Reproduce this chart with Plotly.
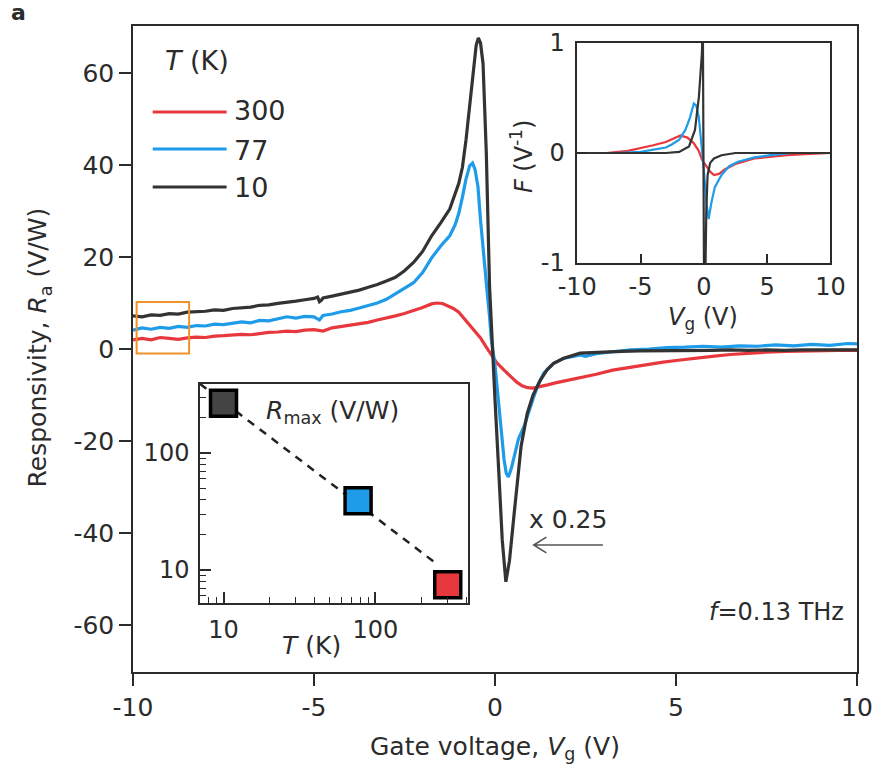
import plotly.graph_objects as go

# ---- Main panel: responsivity R_a (V/W) vs gate voltage V_g (V); 10 K trace shown x0.25 ----
vg_300 = [-10, -9.75, -9.5, -9.25, -9, -8.75, -8.5, -8.25, -8, -7.75, -7.5, -7.25, -7, -6.75,
          -6.5, -6.25, -6, -5.75, -5.5, -5.25, -5,
          -4.75, -4.5, -4.25, -4, -3.75, -3.5, -3.25, -3, -2.75, -2.5, -2.25, -2,
          -1.75, -1.6, -1.45, -1.3, -1.15, -1.0, -0.85, -0.7, -0.55, -0.4, -0.25, -0.1,
          0.05, 0.25, 0.45, 0.6, 0.75, 0.9, 1.05, 1.2, 1.45, 1.7, 2.0, 2.35, 2.8, 3.25,
          3.7, 4.15, 4.6, 5.0, 5.5, 6.0, 6.5, 7.0, 7.5, 8.0, 8.5, 9.0, 9.5, 10]
ra_300 = [2.0, 2.3, 2.0, 2.5, 2.3, 2.1, 2.4, 2.6, 2.5, 2.8, 2.9, 3.0, 3.2, 3.1,
          3.4, 3.6, 3.7, 3.9, 3.8, 4.1, 4.2,
          3.9, 4.6, 4.9, 5.2, 5.4, 5.8, 6.3, 6.7, 7.2, 7.7, 8.3, 9.0,
          9.8, 10.0, 9.9, 9.4, 8.8, 8.0, 6.6, 5.2, 3.8, 2.4, 0.5, -1.3,
          -3.0, -4.6, -6.2, -7.2, -8.0, -8.4, -8.5, -8.3, -7.8, -7.3, -6.8, -6.3, -5.5, -4.6,
          -4.0, -3.4, -2.9, -2.5, -2.0, -1.6, -1.2, -0.9, -0.7, -0.5, -0.4, -0.4, -0.3, -0.3]

vg_77 = [-10, -9.75, -9.5, -9.25, -9, -8.75, -8.5, -8.25, -8, -7.75, -7.5, -7.25, -7, -6.75,
         -6.5, -6.25, -6, -5.75, -5.5, -5.25, -5,
         -4.85, -4.75,
         -4.5, -4.25, -4, -3.75, -3.5, -3.25, -3, -2.75, -2.5, -2.25, -2, -1.75, -1.5, -1.25,
         -1.1, -1.0, -0.9, -0.8, -0.7, -0.62, -0.55, -0.47, -0.4, -0.3, -0.2, -0.15, -0.1,
         0, 0.1, 0.18, 0.25, 0.31, 0.37, 0.45, 0.55, 0.65, 0.8, 0.95, 1.07, 1.2, 1.35, 1.62,
         1.9, 2.1, 2.35, 2.5, 2.8, 3.25, 3.75, 4.25, 4.75, 5.25, 5.75, 6.25, 6.75, 7.25,
         7.75, 8.25, 8.75, 9.25, 9.75, 10]
ra_77 = [4.1, 4.6, 4.3, 4.7, 4.5, 4.9, 4.7, 5.1, 5.0, 5.4, 5.3, 5.6, 5.9, 5.7,
         6.2, 6.1, 6.5, 7.0, 6.7, 7.1, 7.0,
         6.3, 7.3,
         7.6, 8.1, 8.4, 8.9, 9.4, 10.0, 10.8, 12.0, 13.0, 14.4, 16.6, 19.8, 22.4, 24.6,
         27.0, 29.5, 33.0, 37.0, 39.8, 40.4, 39.0, 35.2, 28.0, 18.5, 11.0, 7.0, 2.0,
         -3.5, -12.0, -19.0, -24.0, -27.0, -27.8, -26.0, -22.5, -19.5, -16.9, -13.0, -10.4, -7.5, -5.2, -3.1,
         -2.0, -1.7, -1.3, -1.6, -1.0, -0.6, -0.2, 0.0, 0.3, 0.4, 0.6, 0.4, 0.7, 0.6,
         0.9, 0.7, 1.0, 0.8, 1.2, 1.1]

vg_10 = [-10, -9.75, -9.5, -9.25, -9, -8.75, -8.5, -8.25, -8, -7.75, -7.5, -7.25, -7, -6.75,
         -6.5, -6.25, -6, -5.75, -5.5, -5.25, -5,
         -4.9, -4.85, -4.8, -4.75,
         -4.5, -4.25, -4, -3.75, -3.5, -3.25, -3, -2.75, -2.5, -2.25, -2, -1.75, -1.5, -1.25, -1,
         -0.9, -0.8, -0.7, -0.6, -0.52, -0.46, -0.4, -0.33, -0.24, -0.15, -0.07,
         0, 0.1, 0.2, 0.3, 0.4, 0.53, 0.62, 0.72, 0.89, 1.05, 1.26, 1.45, 1.62, 1.9, 2.35,
         3, 3.5, 4, 4.5, 5, 5.5, 6, 6.5, 7, 7.5, 8, 8.5, 9, 9.5, 10]
ra_10 = [7.2, 7.0, 7.4, 7.3, 7.7, 7.6, 8.0, 8.1, 8.2, 8.5, 8.4, 8.8, 9.0, 9.1,
         9.5, 9.6, 9.9, 10.1, 10.4, 10.7, 11.0,
         11.3, 10.3, 10.6, 11.1,
         11.5, 11.9, 12.4, 12.8, 13.4, 14.0, 14.8, 15.6, 17.0, 18.8, 21.2, 24.6, 27.4, 30.4, 36.0,
         39.5, 45.5, 52.5, 60.5, 66.0, 67.6, 66.5, 62.0, 42.6, 13.5, -1.0,
         -11.0, -26.0, -41.5, -50.6, -46.0, -35.7, -28.0, -21.2, -14.0, -10.0, -6.7, -4.4, -3.1, -2.0, -0.9,
         -0.6, -0.5, -0.4, -0.4, -0.3, -0.3, -0.3, -0.2, -0.3, -0.2, -0.3, -0.2, -0.2, -0.3, -0.2]

# ---- Upper inset: F (1/V) vs V_g ----
f_vg_300 = [-10, -7.7, -6, -5.1, -4, -3.0, -2.4, -1.85, -1.3, -0.8, -0.4, -0.15, 0.2, 0.5,
            0.8, 1.2, 1.65, 2.5, 4.0, 5.5, 6.6, 8, 10]
f_300 = [0, 0, 0.02, 0.04, 0.07, 0.1, 0.13, 0.16, 0.14, 0.09, 0.02, -0.06, -0.12, -0.17,
         -0.2, -0.19, -0.15, -0.1, -0.05, -0.03, -0.02, -0.01, 0]
f_vg_77 = [-10, -7, -5, -3.8, -3, -2.5, -1.95, -1.46, -1.1, -0.79, -0.6, -0.4, -0.2, 0.0,
           0.2, 0.38, 0.6, 0.87, 1.4, 2.0, 2.7, 4, 5.3, 7, 10]
f_77 = [0, 0, 0.01, 0.03, 0.05, 0.08, 0.12, 0.21, 0.32, 0.45, 0.43, 0.33, 0.1, -0.15,
        -0.45, -0.6, -0.45, -0.31, -0.2, -0.12, -0.08, -0.04, -0.02, 0, 0]
f_vg_10 = [-10, -6, -3, -1.95, -1.17, -0.7, -0.39, -0.15, -0.08, 0.02, 0.1, 0.2, 0.3,
           0.5, 0.8, 1.4, 2.5, 5, 10]
f_10 = [0, 0, 0.0, 0.01, 0.06, 0.21, 0.51, 0.91, 1.3, -1.3, -1.3, -0.5, -0.2,
        -0.09, -0.05, -0.02, 0, 0, 0]

# ---- Lower inset: peak responsivity vs temperature ----
temps = [10, 77, 300]
r_max = [267, 39, 7.5]
fit_t = [7, 249]
fit_r = [390, 11.5]

main_xticks = [-10, -5, 0, 5, 10]
main_yticks = [-60, -40, -20, 0, 20, 40, 60]
inset_xticks = [-10, -5, 0, 5, 10]
inset_yticks = [-1, 0, 1]
log_ticks = [10, 100]

RED = "#e8383d"
BLUE = "#1e9be9"
BLACK = "#333333"
INK = "#2b2b2b"
FONT = "DejaVu Sans"


def px(x):
    return (x - 133) / 735


def py(y):
    return (672 - y) / 646


fig = go.Figure()

for xs, ys, col in [(vg_300, ra_300, RED), (vg_77, ra_77, BLUE), (vg_10, ra_10, BLACK)]:
    fig.add_trace(go.Scatter(x=xs, y=ys, mode="lines", line=dict(color=col, width=3.2),
                             xaxis="x", yaxis="y", hoverinfo="skip"))

for xs, ys, col in [(f_vg_300, f_300, RED), (f_vg_77, f_77, BLUE), (f_vg_10, f_10, BLACK)]:
    fig.add_trace(go.Scatter(x=xs, y=ys, mode="lines", line=dict(color=col, width=2.2),
                             xaxis="x2", yaxis="y2", hoverinfo="skip"))

fig.add_trace(go.Scatter(x=fit_t, y=fit_r, mode="lines",
                         line=dict(color="#222222", width=2.5, dash="8px,7px"),
                         xaxis="x3", yaxis="y3", hoverinfo="skip"))
fig.add_trace(go.Scatter(x=temps, y=r_max, mode="markers",
                         marker=dict(symbol="square", size=26,
                                     color=["#444444", BLUE, RED],
                                     line=dict(color="black", width=3.5)),
                         xaxis="x3", yaxis="y3", hoverinfo="skip", cliponaxis=False))

axis_common = dict(showline=True, linecolor=INK, linewidth=1.5, mirror=True,
                   showgrid=False, zeroline=False, tickcolor=INK, tickwidth=1.5)

fig.update_layout(
    width=885, height=779,
    margin=dict(l=133, r=17, t=26, b=107),
    paper_bgcolor="white", plot_bgcolor="white",
    showlegend=False,
    font=dict(family=FONT, size=25, color=INK),
    xaxis=dict(domain=[0, 1], range=[-10, 10], tickvals=main_xticks,
               ticktext=[str(v) for v in main_xticks], ticks="outside", ticklen=12,
               tickfont=dict(size=25), **axis_common),
    yaxis=dict(domain=[0, 1], range=[-70.2, 70.2], tickvals=main_yticks,
               ticktext=[str(v) for v in main_yticks], ticks="outside", ticklen=12,
               tickfont=dict(size=25), **axis_common),
    xaxis2=dict(domain=[px(584), px(841)], anchor="y2", range=[-10, 10],
                tickvals=inset_xticks, ticktext=[str(v) for v in inset_xticks],
                ticks="inside", ticklen=9, tickfont=dict(size=24),
                ticklabelstandoff=1, **axis_common),
    yaxis2=dict(domain=[py(263), py(43)], anchor="x2", range=[-1, 1],
                tickvals=inset_yticks, ticktext=[str(v) for v in inset_yticks],
                ticks="inside", ticklen=9, tickfont=dict(size=24),
                ticklabelstandoff=6, **axis_common),
    xaxis3=dict(domain=[px(201), px(473)], anchor="y3", type="log", range=[0.845, 2.61],
                tickvals=log_ticks, ticktext=[str(v) for v in log_ticks],
                ticks="inside", ticklen=11, tickfont=dict(size=24),
                minor=dict(tickvals=[8, 9, 20, 30, 40, 50, 60, 70, 80, 90, 200, 300, 400],
                           ticks="inside", ticklen=6, tickcolor=INK, tickwidth=1.2),
                ticklabelstandoff=4, **axis_common),
    yaxis3=dict(domain=[py(603), py(384)], anchor="x3", type="log", range=[0.718, 2.59],
                tickvals=log_ticks, ticktext=[str(v) for v in log_ticks],
                ticks="inside", ticklen=11, tickfont=dict(size=24),
                minor=dict(tickvals=[6, 7, 8, 9, 20, 30, 40, 50, 60, 70, 80, 90, 200, 300],
                           ticks="inside", ticklen=6, tickcolor=INK, tickwidth=1.2),
                ticklabelstandoff=4, **axis_common),
)

shapes = []
# legend samples
for yy, col in [(112, RED), (149, BLUE), (187, BLACK)]:
    shapes.append(dict(type="line", xref="paper", yref="paper",
                       x0=px(153), x1=px(228), y0=py(yy), y1=py(yy),
                       line=dict(color=col, width=3)))
# highlighted window near V_g = -10 V
shapes.append(dict(type="rect", xref="x", yref="y", x0=-9.9, x1=-8.45, y0=-1.0, y1=10.2,
                   line=dict(color="#f0922b", width=2)))
# arrow pointing at the scaled 10 K trace
shapes.append(dict(type="path", xref="x", yref="y",
                   path="M 2.98,-42.6 L 1.07,-42.6 M 1.42,-40.9 L 1.07,-42.6 L 1.42,-44.3",
                   line=dict(color="#555555", width=1.6)))
fig.update_layout(shapes=shapes)

ann = []


def label(text, x, y, size=25, xanchor="center", yanchor="middle", angle=0):
    ann.append(dict(text=text, x=px(x), y=py(y), xref="paper", yref="paper",
                    showarrow=False, xanchor=xanchor, yanchor=yanchor, textangle=angle,
                    font=dict(family=FONT, size=size, color=INK)))


label("<b>a</b>", 17, 13, size=22)
label("<i>T</i> (K)", 163, 60, size=27, xanchor="left")
label("300", 233, 111, size=27, xanchor="left")
label("77", 233, 150, size=27, xanchor="left")
label("10", 233, 187, size=27, xanchor="left")
label("<i>f</i>=0.13 THz", 857, 612, size=24, xanchor="right")
label("x 0.25", 533, 519, size=25, xanchor="left")
label("Gate voltage, <i>V</i><sub>g</sub> (V)", 500, 748, size=25)
label("Responsivity, <i>R</i><sub>a</sub> (V/W)", 38, 347, size=25, angle=-90)
label("<i>F</i> (V<sup>-1</sup>)", 528, 157, size=24, angle=-90)
label("<i>V</i><sub>g</sub> (V)", 712, 318, size=24)
label("<i>R</i><sub>max</sub> (V/W)", 266, 412, size=25, xanchor="left")
label("<i>T</i> (K)", 314, 645, size=25)

fig.update_layout(annotations=ann)

fig.write_html("out.html")
